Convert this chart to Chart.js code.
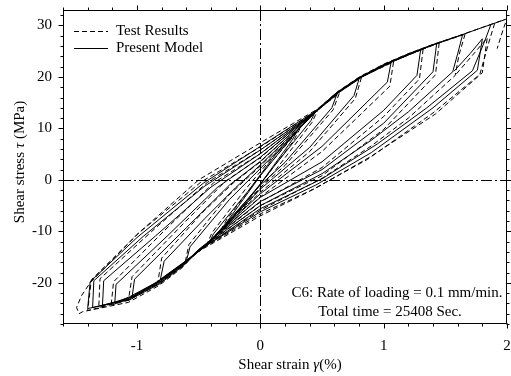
<!DOCTYPE html>
<html>
<head>
<meta charset="utf-8">
<script src="https://cdn.jsdelivr.net/npm/chart.js@4.4.1/dist/chart.umd.min.js"></script>
<style>
  body { margin: 0; background: #fff; }
  canvas { display: block; }
</style>
</head>
<body>
<canvas id="myChart" width="511" height="376"></canvas>
<script>
// tick labels
var xTicks = [-1, 0, 1, 2]
var yTicks = [-20, -10, 0, 10, 20, 30]

// present model loops (solid), [strain %, stress MPa]
var model1 = [[-0.3,-9.5],[-0.26,-7.8],[0,0.8],[0.3,9.6],[0.26,7.8],[0,-0.8],[-0.3,-9.5]]
var model2 = [[-0.42,-12.5],[-0.38,-10.5],[-0.1,-2.2],[0.12,4.8],[0.45,13.5],[0.41,11.5],[0.1,2.3],[-0.12,-4.6],[-0.42,-12.5]]
var model3 = [[0.62,16.6],[0.58,14],[0.2,3.4],[0,-1],[-0.45,-13],[-0.6,-15.8],[-0.57,-13],[-0.25,-3.8],[0,2.2],[0.45,13.2],[0.62,16.6]]
var model4 = [[0.8,19.6],[0.76,16.4],[0.4,6.3],[0,-1.8],[-0.46,-13.1],[-0.62,-16],[-0.81,-19.3],[-0.78,-15.8],[-0.45,-7.5],[-0.2,-1.5],[0,2.9],[0.45,13.3],[0.62,16.7],[0.8,19.6]]
var model5 = [[1.06,22.8],[1.03,19],[0.5,6.5],[0,-2.7],[-0.47,-13.2],[-0.62,-16.1],[-0.81,-19.4],[-1.04,-22.8],[-1.02,-19.3],[-0.6,-9.3],[-0.25,-1],[0,3.6],[0.45,13.4],[0.62,16.8],[0.8,19.7],[1.06,22.8]]
var model6 = [[1.3,25.3],[1.27,20.3],[1.0,13.5],[0.5,3.5],[0,-3.4],[-0.48,-13.3],[-0.62,-16.2],[-0.81,-19.5],[-1.06,-22.7],[-1.18,-23.9],[-1.17,-20.3],[-0.75,-10.8],[-0.35,-1.5],[0,4.4],[0.45,13.4],[0.62,16.8],[0.8,19.7],[1.0,22.2],[1.3,25.3]]
var model7 = [[1.43,26.5],[1.4,21],[1.0,11],[0.5,2],[0,-4.2],[-0.5,-13.5],[-0.62,-16.3],[-0.81,-19.7],[-1.06,-22.9],[-1.28,-24.4],[-1.27,-19.6],[-0.85,-10.9],[-0.4,-1.4],[0,5.1],[0.45,13.3],[0.62,16.8],[0.8,19.8],[1.0,22.3],[1.2,24.3],[1.43,26.5]]
var model8 = [[1.64,28.2],[1.6,24.5],[1.56,21],[1.2,13.2],[0.9,7.7],[0.5,1.2],[0,-5],[-0.5,-13.6],[-0.62,-16.4],[-0.81,-19.9],[-1.06,-23.1],[-1.36,-24.8],[-1.35,-19.6],[-0.95,-11],[-0.45,-1.2],[0,5.8],[0.45,13.3],[0.62,16.9],[0.8,19.8],[1.0,22.3],[1.2,24.4],[1.4,26.2],[1.64,28.2]]
var model9 = [[1.87,30.2],[1.82,27],[1.72,21.2],[1.35,14],[0.95,7],[0.5,0.2],[0,-5.6],[-0.5,-13.8],[-0.62,-16.6],[-0.81,-20.1],[-1.06,-23.3],[-1.4,-25],[-1.38,-19.8],[-1,-11.2],[-0.46,-0.6],[0,6.5],[0.45,13.4],[0.62,17],[0.8,19.9],[1.0,22.4],[1.2,24.5],[1.4,26.3],[1.6,27.9],[1.8,29.6],[1.98,31.1]]
var model10 = [[1.57,21.1],[1.7,24.5],[1.8,27.4],[1.76,21.3],[1.4,14],[0.9,5.3],[0.45,-1],[0,-6.2],[-0.52,-14]]

// test results loops (dashed)
var test1 = [[-0.32,-9.8],[-0.27,-7.6],[0.02,1.5],[0.32,9.9],[0.27,7.6],[-0.02,-1.5],[-0.32,-9.8]]
var test2 = [[-0.44,-12.8],[-0.39,-10.2],[-0.12,-1.8],[0.12,5],[0.47,13.8],[0.42,11.2],[0.12,1.8],[-0.12,-5],[-0.44,-12.8]]
var test3 = [[0.64,16.8],[0.59,13.6],[0.2,2.8],[0,-1.5],[-0.46,-13.2],[-0.61,-16.1],[-0.58,-12.6],[-0.27,-3.3],[0,2.7],[0.46,13.5],[0.64,16.8]]
var test4 = [[0.82,19.9],[0.77,15.8],[0.4,5.5],[0,-2.4],[-0.47,-13.3],[-0.63,-16.3],[-0.83,-19.7],[-0.8,-15.2],[-0.48,-6.6],[-0.22,-0.6],[0,3.5],[0.46,13.6],[0.63,16.9],[0.82,19.9]]
var test5 = [[1.08,22.9],[1.05,18.2],[0.5,5.5],[0,-3.3],[-0.48,-13.4],[-0.63,-16.4],[-0.82,-19.7],[-1.07,-23.4],[-1.04,-18.8],[-0.62,-8.4],[-0.28,-0.2],[0,4.3],[0.46,13.6],[0.63,17],[0.81,19.9],[1.08,22.9]]
var test6 = [[1.32,25.4],[1.29,19.6],[1.0,12.3],[0.5,2.4],[0,-4.3],[-0.49,-13.5],[-0.63,-16.5],[-0.82,-19.7],[-1.07,-23],[-1.21,-24.4],[-1.19,-19.8],[-0.78,-9.9],[-0.38,-0.6],[0,5.1],[0.46,13.5],[0.63,17],[0.81,19.9],[1.01,22.4],[1.32,25.4]]
var test7 = [[1.45,26.6],[1.42,20.4],[1.0,9.8],[0.5,0.8],[0,-5],[-0.5,-13.7],[-0.63,-16.6],[-0.82,-19.9],[-1.07,-23.2],[-1.31,-24.8],[-1.3,-19.2],[-0.88,-10],[-0.43,-0.5],[0,5.8],[0.46,13.4],[0.63,16.9],[0.81,19.9],[1.01,22.4],[1.21,24.4],[1.45,26.6]]
var test8 = [[1.66,28.3],[1.61,24.2],[1.58,20.3],[1.2,12],[0.9,6.6],[0.5,0.3],[0,-5.9],[-0.51,-13.8],[-0.63,-16.8],[-0.82,-20.2],[-1.07,-23.4],[-1.4,-25.4],[-1.37,-19.4],[-0.98,-10.2],[-0.48,-0.4],[0,6.4],[0.46,13.5],[0.63,17],[0.81,19.9],[1.01,22.4],[1.21,24.5],[1.41,26.3],[1.66,28.3]]
var test9 = [[1.9,30.4],[1.85,26.5],[1.78,20.5],[1.4,13],[0.87,4],[0.4,-2.2],[0,-7],[-0.53,-14.3],[-0.63,-17],[-0.82,-20.5],[-1.07,-23.8],[-1.44,-25.6],[-1.47,-26],[-1.49,-24.8],[-1.45,-22.5],[-1.38,-20],[-1,-10.6],[-0.5,0],[0,7.2],[0.46,13.7],[0.63,17.2],[0.81,20.1],[1.01,22.6],[1.21,24.6],[1.41,26.4],[1.61,28],[1.81,29.7],[2.0,31.3],[1.97,29.3],[1.92,25.5]]
var test10 = [[1.59,20.6],[1.72,24.2],[1.84,27.6],[1.8,20.8],[1.42,12.8],[0.9,4.6],[0.45,-1.6],[0,-6.6],[-0.53,-14.2]]

var modelLoops = [model1, model2, model3, model4, model5, model6, model7, model8, model9, model10]
var testLoops = [test1, test2, test3, test4, test5, test6, test7, test8, test9, test10]

var serif = "'Liberation Serif', 'Times New Roman', serif"

// every loop becomes one line dataset
var datasets = []
var addLoops = function(list, dash){
  list.forEach(function(loop){
    datasets.push({
      data: loop.map(function(p){ return {x:p[0], y:p[1]} }),
      showLine: true,
      borderColor: '#000',
      borderWidth: 1,
      borderDash: dash,
      pointRadius: 0,
      tension: 0,
      fill: false
    })
  })
}
addLoops(testLoops, [5,3])
addLoops(modelLoops, [])

// axes frame, ticks, zero lines, legend and texts
var decor = {
  id: 'decor',
  beforeDatasetsDraw: function(chart){
    var ctx = chart.ctx, a = chart.chartArea
    var x0 = Math.round(chart.scales.x.getPixelForValue(0)) + 0.5
    var y0 = Math.round(chart.scales.y.getPixelForValue(0)) + 0.5
    ctx.save()
    ctx.strokeStyle = '#000'
    ctx.lineWidth = 1
    ctx.setLineDash([11,3,2,3])
    ctx.beginPath()
    ctx.moveTo(x0, a.top); ctx.lineTo(x0, a.bottom)
    ctx.moveTo(a.left, y0); ctx.lineTo(a.right, y0)
    ctx.stroke()
    ctx.restore()
  },
  afterDraw: function(chart){
    var ctx = chart.ctx, a = chart.chartArea
    var sx = chart.scales.x, sy = chart.scales.y
    var L = Math.round(a.left) + 0.5, R = Math.round(a.right) - 0.5
    var T = Math.round(a.top) + 0.5, B = Math.round(a.bottom) - 0.5
    ctx.save()
    ctx.strokeStyle = '#000'
    ctx.lineWidth = 1
    ctx.setLineDash([])
    ctx.strokeRect(L, T, R - L, B - T)
    ctx.beginPath()
    // x ticks every 0.2
    for (var i = -8; i <= 10; i++) {
      var len = (i % 5 == 0) ? 5 : 3
      var px = Math.round(sx.getPixelForValue(i * 0.2)) + 0.5
      ctx.moveTo(px, B); ctx.lineTo(px, B + len)
      ctx.moveTo(px, T); ctx.lineTo(px, T - len)
    }
    // y ticks every 2
    for (var j = -14; j <= 16; j++) {
      var ln = (j % 5 == 0) ? 5 : 3
      var py = Math.round(sy.getPixelForValue(j * 2)) + 0.5
      ctx.moveTo(L, py); ctx.lineTo(L - ln, py)
      ctx.moveTo(R, py); ctx.lineTo(R + ln, py)
    }
    ctx.stroke()

    // legend
    ctx.beginPath()
    ctx.setLineDash([5,3])
    ctx.moveTo(a.left + 11, a.top + 21.5); ctx.lineTo(a.left + 45, a.top + 21.5)
    ctx.stroke()
    ctx.setLineDash([])
    ctx.beginPath()
    ctx.moveTo(a.left + 11, a.top + 38.5); ctx.lineTo(a.left + 45, a.top + 38.5)
    ctx.stroke()
    ctx.fillStyle = '#000'
    ctx.font = '15px ' + serif
    ctx.textBaseline = 'middle'
    ctx.textAlign = 'left'
    ctx.fillText('Test Results', a.left + 53, a.top + 21)
    ctx.fillText('Present Model', a.left + 53, a.top + 38)

    // note
    ctx.textAlign = 'center'
    ctx.fillText('C6: Rate of loading = 0.1 mm/min.', a.right - 110, a.bottom - 31)
    ctx.fillText('Total time = 25408 Sec.', a.right - 117, a.bottom - 12)

    // axis titles with italic greek letters
    function mixed(parts, cx, cy){
      var w = 0
      parts.forEach(function(p){ ctx.font = (p[1] ? 'italic ' : '') + '15px ' + serif; w += ctx.measureText(p[0]).width })
      var cur = cx - w / 2
      ctx.textAlign = 'left'
      parts.forEach(function(p){
        ctx.font = (p[1] ? 'italic ' : '') + '15px ' + serif
        ctx.fillText(p[0], cur, cy)
        cur += ctx.measureText(p[0]).width
      })
    }
    mixed([['Shear strain ', false], ['\u03b3', true], ['(%)', false]], 290, 365)
    ctx.translate(20, 162)
    ctx.rotate(-Math.PI / 2)
    mixed([['Shear stress ', false], ['\u03c4', true], [' (MPa)', false]], 0, 0)
    ctx.restore()
  }
}

// keep the plot box fixed, no extra room for edge labels
function noPad(s){
  s.paddingLeft = 0; s.paddingRight = 0; s.paddingTop = 0; s.paddingBottom = 0
}

var mychart = document.getElementById('myChart').getContext('2d')
var chart = new Chart(mychart, {
  type: 'scatter',
  data: { datasets: datasets },
  options: {
    responsive: false,
    animation: false,
    layout: { padding: { top: 10, right: 4, left: 0, bottom: 0 } },
    plugins: { legend: { display: false }, tooltip: { enabled: false } },
    scales: {
      x: {
        type: 'linear', min: -1.6, max: 2,
        afterBuildTicks: function(s){ s.ticks = xTicks.map(function(v){ return {value:v} }) },
        afterFit: function(s){ s.height = 52; noPad(s) },
        grid: { display: false, drawTicks: false },
        border: { display: false },
        ticks: { padding: 13, color: '#000', maxRotation: 0, font: { family: serif, size: 15 }, callback: function(v){ return v } }
      },
      y: {
        type: 'linear', min: -28, max: 33,
        afterBuildTicks: function(s){ s.ticks = yTicks.map(function(v){ return {value:v} }) },
        afterFit: function(s){ s.width = 63; noPad(s) },
        grid: { display: false, drawTicks: false },
        border: { display: false },
        ticks: { padding: 11, color: '#000', font: { family: serif, size: 15 }, callback: function(v){ return v } }
      }
    }
  },
  plugins: [decor]
})
</script>
</body>
</html>
